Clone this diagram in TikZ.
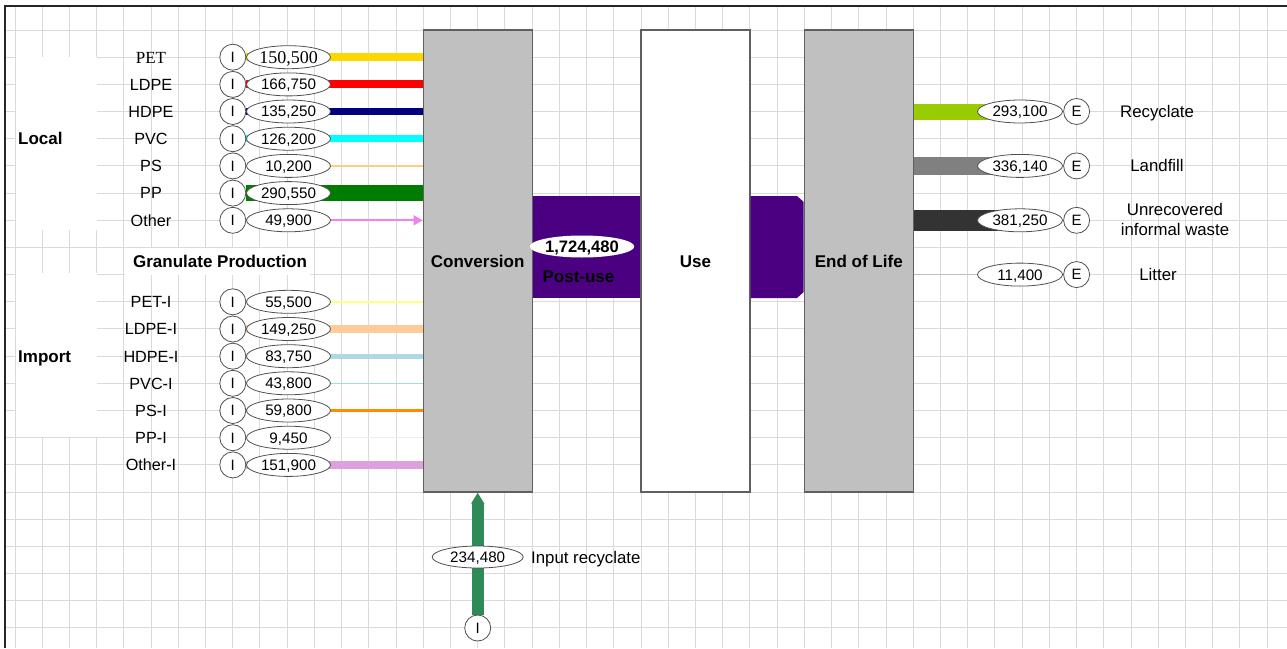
\documentclass[tikz,border=0pt]{standalone}
\usepackage{fontspec}
\setmainfont{Liberation Sans}
\newfontfamily\petserif{Liberation Serif}
\usetikzlibrary{shapes.geometric,arrows.meta}
\definecolor{gridc}{HTML}{DADADA}
\definecolor{boxgray}{HTML}{C0C0C0}
\definecolor{boxedge}{HTML}{606060}
\definecolor{ovedge}{HTML}{505050}
\definecolor{indigoc}{HTML}{4B0082}
\definecolor{cPET}{HTML}{FFD700}
\definecolor{cLDPE}{HTML}{FF0000}
\definecolor{cHDPE}{HTML}{000080}
\definecolor{cPVC}{HTML}{00FFFF}
\definecolor{cPS}{HTML}{FFCC80}
\definecolor{cPP}{HTML}{007D00}
\definecolor{cOther}{HTML}{EE82EE}
\definecolor{cPETI}{HTML}{FFFF80}
\definecolor{cLDPEI}{HTML}{FFCC99}
\definecolor{cHDPEI}{HTML}{ADD8E6}
\definecolor{cPVCI}{HTML}{A0E0D8}
\definecolor{cPSI}{HTML}{FF8C00}
\definecolor{cPPI}{HTML}{E4F4E4}
\definecolor{cOtherI}{HTML}{DDA0DD}
\definecolor{cRec}{HTML}{99CC00}
\definecolor{cLand}{HTML}{808080}
\definecolor{cUnrec}{HTML}{333333}
\definecolor{cLitter}{HTML}{BFBFBF}
\definecolor{cInput}{HTML}{2E8B57}
\pgfdeclarelayer{gridlayer}
\pgfdeclarelayer{flowlayer}
\pgfsetlayers{gridlayer,flowlayer,main}
\tikzset{
  lbl/.style={inner sep=0pt, font=\fontsize{16.2}{19}\selectfont, text height=11.6pt, text depth=0pt},
  rlbl/.style={inner sep=0pt, font=\fontsize{16.8}{20}\selectfont, text height=12pt, text depth=0pt},
  blbl/.style={inner sep=0pt, font=\bfseries\fontsize{17}{20}\selectfont, text height=12.2pt, text depth=0pt},
  icirc/.style={circle, draw=ovedge, fill=white, line width=0.8pt, minimum size=26pt, inner sep=0pt,
    font=\fontsize{15}{18}\selectfont, text height=10.7pt, text depth=0pt},
  numell/.style={ellipse, draw=ovedge, fill=white, line width=0.8pt, minimum width=84pt, minimum height=23pt,
    inner sep=0pt, font=\fontsize{15.2}{18}\selectfont, text height=10.9pt, text depth=0pt},
  procbox/.style={draw=boxedge, line width=1.3pt, fill=boxgray, minimum width=109pt, minimum height=462pt, inner sep=0pt},
  whitebox/.style={fill=white, inner sep=0pt},
}
\begin{document}
\begin{tikzpicture}[x=1pt,y=-1pt]
\useasboundingbox (0,0) rectangle (1287,648);
% grid
\begin{pgfonlayer}{gridlayer}
\fill[white] (0,0) rectangle (1287,648);
\foreach \k in {0,...,46} \draw[gridc, line width=1pt] ({15+27.22*\k},6) -- ({15+27.22*\k},648);
\foreach \k in {0,...,22} \draw[gridc, line width=1pt] (5,{30+27.18*\k}) -- (1287,{30+27.18*\k});
\end{pgfonlayer}
\draw[black!85, line width=1.6pt] (5,648) -- (5,6) -- (1287,6);

% white text boxes
\node[whitebox, minimum width=81pt, minimum height=173pt] (localbox) at (56.5,143.5) {};
\node[whitebox, minimum width=81pt, minimum height=164pt] (importbox) at (56.5,355) {};
\node[whitebox, minimum width=185pt, minimum height=27pt] (granbox) at (217.5,261) {};
\node[blbl, anchor=west] (local) at (18,138.7) {Local};
\node[blbl, anchor=west] (import) at (18,356.2) {Import};
\node[blbl] (gran) at (220,261.5) {Granulate Production};

% process boxes
\node[procbox] (conv) at (477.7,261) {};
\node[blbl] (convt) at (477.7,261.5) {Conversion};
\node[procbox, fill=white] (use) at (695.5,261) {};
\node[blbl] (uset) at (695.5,261.5) {Use};
\node[procbox] (eol) at (858.8,261) {};
\node[blbl] (eolt) at (858.8,261.5) {End of Life};

% purple bands
\fill[indigoc] (532.9,196) rectangle (640.4,298);
\fill[indigoc] (750.7,196) -- (797,196) -- (803.7,202) -- (803.7,292) -- (797,298) -- (750.7,298) -- cycle;
\node[ellipse, fill=white, minimum width=100pt, minimum height=22pt, inner sep=0pt,
  font=\bfseries\fontsize{16.6}{19}\selectfont, text height=11.9pt, text depth=0pt] (post) at (582,246.5) {1,724,480};
\node[blbl] (postt) at (578.5,276) {Post-use};

% inputs
\foreach \nm/\y/\txt/\val in {LDPE/84.4/LDPE/{166,750}, HDPE/111.5/HDPE/{135,250}, PVC/138.7/PVC/{126,200},
   PS/165.9/PS/{10,200}, PP/193.1/PP/{290,550}, Other/220.3/Other/{49,900},
   PETI/301.8/PET-I/{55,500}, LDPEI/329/LDPE-I/{149,250}, HDPEI/356.2/HDPE-I/{83,750}, PVCI/383.3/PVC-I/{43,800},
   PSI/410.5/PS-I/{59,800}, PPI/437.7/PP-I/{9,450}, OtherI/464.9/Other-I/{151,900}}{
  \node[lbl] (l\nm) at (151,\y) {\txt};
  \node[icirc] (i\nm) at (232.8,\y) {I};
  \node[numell] (n\nm) at (288.5,\y) {\val};
}
\node[lbl, font=\petserif\fontsize{17}{20}\selectfont] (lPET) at (151,57.2) {PET};
\node[icirc] (iPET) at (232.8,57.2) {I};
\node[numell, font=\petserif\fontsize{18}{20}\selectfont, text height=11.6pt] (nPET) at (288.5,57.2) {150,500};

\begin{pgfonlayer}{flowlayer}
\draw[cPET, line width=8pt] (iPET.east) -- (conv.west |- iPET);
\draw[cLDPE, line width=8pt] (iLDPE.east) -- (conv.west |- iLDPE);
\draw[cHDPE, line width=7pt] (iHDPE.east) -- (conv.west |- iHDPE);
\draw[cPVC, line width=7pt] (iPVC.east) -- (conv.west |- iPVC);
\draw[cPS, line width=1.5pt] (iPS.east) -- (conv.west |- iPS);
\draw[cPP, line width=16.5pt] (iPP.east) -- (conv.west |- iPP);
\draw[cOther, line width=2pt, -{Triangle[length=9pt,width=10pt]}] (iOther.east) -- (conv.west |- iOther);
\draw[cPETI, line width=2pt] (iPETI.east) -- (conv.west |- iPETI);
\draw[cLDPEI, line width=7.5pt] (iLDPEI.east) -- (conv.west |- iLDPEI);
\draw[cHDPEI, line width=5pt] (iHDPEI.east) -- (conv.west |- iHDPEI);
\draw[cPVCI, line width=1.5pt] (iPVCI.east) -- (conv.west |- iPVCI);
\draw[cPSI, line width=2.5pt] (iPSI.east) -- (conv.west |- iPSI);
\draw[cPPI, line width=1.3pt] (iPPI.east) -- (conv.west |- iPPI);
\draw[cOtherI, line width=7.5pt] (iOtherI.east) -- (conv.west |- iOtherI);
\end{pgfonlayer}

% outputs
\node[numell, minimum width=85pt] (nRec) at (1020,111.5) {293,100};
\node[icirc] (eRec) at (1076.6,111.5) {E};
\node[rlbl] (tRec) at (1157,111.5) {Recyclate};
\node[numell, minimum width=85pt] (nLand) at (1020,165.9) {336,140};
\node[icirc] (eLand) at (1076.6,165.9) {E};
\node[rlbl] (tLand) at (1157,165.9) {Landfill};
\node[numell, minimum width=85pt] (nUnrec) at (1020,220.3) {381,250};
\node[icirc] (eUnrec) at (1076.6,220.3) {E};
\node[rlbl, align=center, text height=, text depth=, font=\fontsize{16.8}{19.5}\selectfont] (tUnrec) at (1175,219.5) {Unrecovered\\informal waste};
\node[numell, minimum width=85pt] (nLit) at (1020,274.6) {11,400};
\node[icirc] (eLit) at (1076.6,274.6) {E};
\node[rlbl] (tLit) at (1158,274.6) {Litter};
\begin{pgfonlayer}{flowlayer}
\draw[cRec, line width=16pt] (eol.east |- nRec) -- (nRec.center);
\draw[cLand, line width=18pt] (eol.east |- nLand) -- (nLand.center);
\draw[cUnrec, line width=21pt] (eol.east |- nUnrec) -- (nUnrec.center);
\draw[cLitter, line width=1pt] (eol.east |- nLit) -- (nLit.west);
\end{pgfonlayer}

% input recyclate
\node[icirc] (iIn) at (477.7,628) {I};
\node[numell, minimum width=91pt, minimum height=22pt] (nIn) at (477.7,557) {234,480};
\node[rlbl, anchor=west] (tIn) at (531,557) {Input recyclate};
\begin{pgfonlayer}{flowlayer}
\draw[cInput, line width=12pt, -{Triangle[length=11pt,width=12.5pt]}] (iIn.north) -- (conv.south -| iIn);
\end{pgfonlayer}
\end{tikzpicture}
\end{document}
